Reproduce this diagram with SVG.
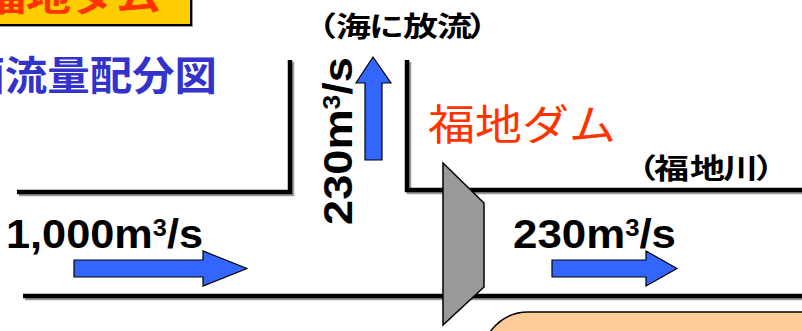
<svg xmlns="http://www.w3.org/2000/svg" width="802" height="331" viewBox="0 0 802 331">
<style>
.ch{fill:none;stroke:#000;stroke-width:4.5;stroke-linejoin:miter;stroke-linecap:butt}
.chs{fill:none;stroke:#999;stroke-width:4.5;stroke-linejoin:miter}
.arr{fill:#3366FF;stroke:#000;stroke-width:1.2;stroke-linejoin:miter}
.num{font-family:"Liberation Sans",Arial,sans-serif;font-weight:bold;font-size:41px;fill:#000}
.jp{font-family:"Noto Sans CJK JP","Noto Sans",sans-serif}
</style>
<rect width="802" height="331" fill="#fff"/>
<g id="title-box">
<rect x="-8" y="-8" width="201" height="35" fill="#999"/>
<rect x="-10" y="-10" width="201" height="35" fill="#FFCC00" stroke="#000" stroke-width="2"/>
<text class="jp" transform="translate(0,11) scale(1.25,1)" x="-15.2" y="0" font-size="36" font-weight="bold" fill="#FF3300">福地ダム</text>
</g>
<g id="heading">
<text class="jp" x="-80" y="90" font-size="40" font-weight="bold" fill="#3333CC" textLength="297" lengthAdjust="spacingAndGlyphs">計画流量配分図</text>
</g>
<g id="outfall-box">
<rect x="482" y="312" width="420" height="120" rx="46" ry="46" fill="#FFCC99" stroke="#000" stroke-width="1.5"/>
</g>
<g id="connectors">
<path class="chs" d="M19,194 H292 V62"/>
<path class="chs" d="M409,62 V192 H804"/>
<path class="chs" d="M25,298 H804"/>
<path class="ch" d="M17,192 H290 V60"/>
<path class="ch" d="M407,60 V190 H802"/>
<path class="ch" d="M23,296 H802"/>
<polygon class="arr" points="74,260 203,260 203,251 247,268.5 203,286 203,277 74,277"/>
<polygon class="arr" points="552,260 646,260 646,251 677,268.5 646,286 646,277 552,277"/>
<polygon class="arr" points="365,160 365,83 356,83 373,57 391,83 382,83 382,160"/>
</g>
<g id="dam">
<polygon points="443,163 484,203 484,287 443,325" fill="#999" stroke="#000" stroke-width="1.5" stroke-linejoin="miter"/>
<text class="jp" x="428" y="140" font-size="42" fill="#FF3300" textLength="188" lengthAdjust="spacingAndGlyphs">福地ダム</text>
</g>
<g id="sea-label">
<text class="jp" transform="translate(0,36.5) scale(1.25,1)" x="241.6 268.8 295.2 322.4 349.6 374.4" y="0" font-size="28" font-weight="bold" fill="#000">（海に放流）</text>
</g>
<g id="river-label">
<text class="jp" transform="translate(0,178.5) scale(1.25,1)" x="497.6 523.2 552 578.4 604" y="0" font-size="28" font-weight="bold" fill="#000">（福地川）</text>
</g>
<g id="inflow">
<text class="num" x="6" y="248" textLength="197" lengthAdjust="spacingAndGlyphs">1,000m<tspan dy="-12" font-size="24">3</tspan><tspan dy="12">/s</tspan></text>
</g>
<g id="release">
<text class="num" x="513" y="248" textLength="163" lengthAdjust="spacingAndGlyphs">230m<tspan dy="-12" font-size="24">3</tspan><tspan dy="12">/s</tspan></text>
</g>
<g id="spill">
<text class="num" transform="translate(352,225) rotate(-90)" x="0" y="0" textLength="168" lengthAdjust="spacingAndGlyphs">230m<tspan dy="-12" font-size="24">3</tspan><tspan dy="12">/s</tspan></text>
</g>
</svg>
